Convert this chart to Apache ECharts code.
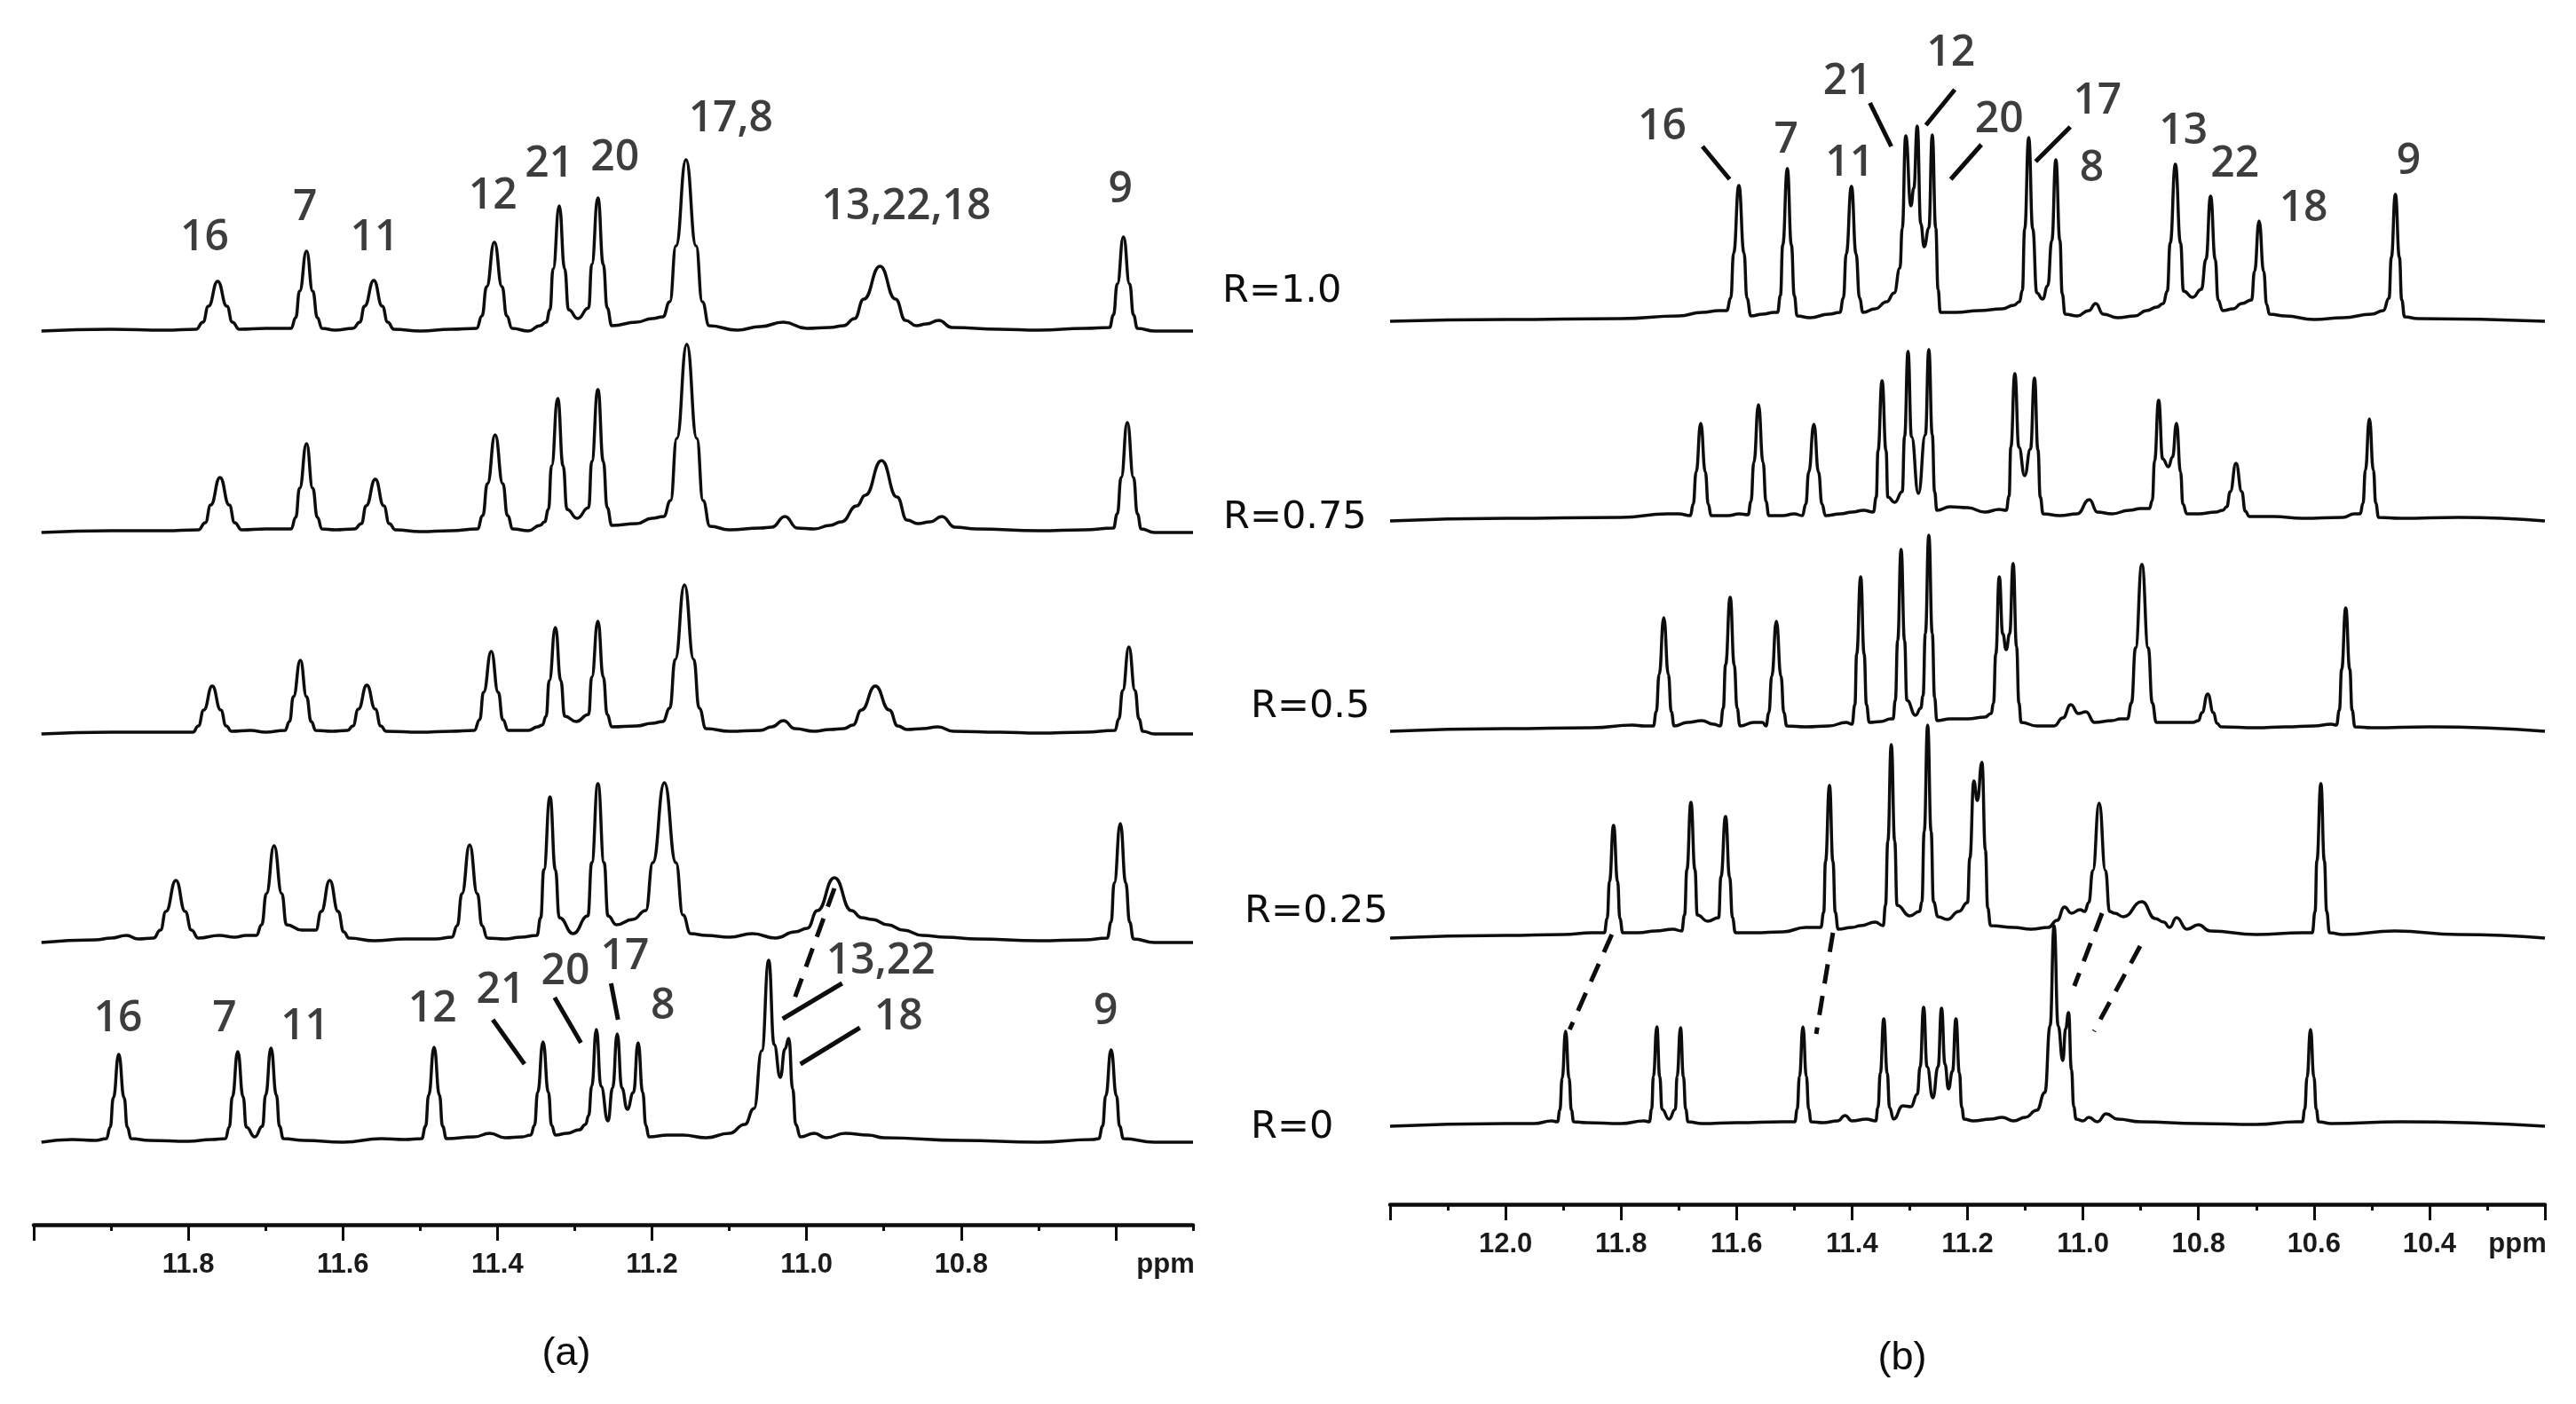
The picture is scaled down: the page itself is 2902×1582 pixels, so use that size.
<!DOCTYPE html>
<html>
<head>
<meta charset="utf-8">
<title>Imino proton spectra vs R</title>
<script src="https://cdn.jsdelivr.net/npm/echarts@6.0.0/dist/echarts.min.js"></script>
<style>
  html, body { margin: 0; padding: 0; background: #fff; }
  #chart { width: 2902px; height: 1582px; }
</style>
</head>
<body>
<div id="chart"></div>
<script>
// ---- spectra, [ppm, intensity] ----
// panel (a)
const a_R100 = [[11.99,0],[11.90,2],[11.83,1],[11.790,2],[11.781,10],[11.774,28],[11.762,56],[11.750,28],[11.743,10],[11.734,2],[11.70,3],[11.667,3],[11.661,15],[11.656,45],[11.647,90],[11.639,45],[11.633,15],[11.627,3],[11.61,1],[11.587,3],[11.578,10],[11.572,28],[11.560,57],[11.549,28],[11.542,10],[11.534,2],[11.50,0],[11.46,2],[11.427,3],[11.420,17],[11.414,50],[11.404,100],[11.394,50],[11.388,17],[11.381,3],[11.36,0],[11.345,6],[11.337,10],[11.332,24],[11.328,70],[11.320,141],[11.313,70],[11.308,24],[11.296,14],[11.282,26],[11.278,75],[11.270,150],[11.263,75],[11.258,26],[11.252,6],[11.22,10],[11.20,14],[11.186,16],[11.177,33],[11.169,96],[11.156,193],[11.143,96],[11.135,33],[11.126,6],[11.09,1],[11.06,5],[11.03,10],[11.00,3],[10.97,4],[10.952,6],[10.938,14],[10.926,36],[10.905,73],[10.885,36],[10.872,12],[10.858,6],[10.845,8],[10.829,12],[10.812,4],[10.75,2],[10.70,1],[10.64,3],[10.608,4],[10.603,18],[10.598,53],[10.590,106],[10.582,53],[10.577,18],[10.572,3],[10.55,0],[10.50,0]];
const a_R075 = [[11.99,0],[11.90,2],[11.83,2],[11.787,3],[11.778,11],[11.771,31],[11.759,62],[11.747,31],[11.740,11],[11.731,3],[11.70,4],[11.667,4],[11.661,17],[11.656,50],[11.647,100],[11.639,50],[11.633,17],[11.627,4],[11.61,3],[11.585,4],[11.576,10],[11.570,30],[11.558,60],[11.547,30],[11.540,10],[11.532,3],[11.50,1],[11.46,2],[11.426,4],[11.419,19],[11.413,55],[11.403,110],[11.393,55],[11.387,19],[11.380,4],[11.36,2],[11.345,8],[11.339,12],[11.334,26],[11.330,75],[11.322,151],[11.315,75],[11.310,26],[11.297,16],[11.282,28],[11.278,80],[11.270,161],[11.263,80],[11.258,28],[11.252,8],[11.22,10],[11.20,16],[11.185,18],[11.176,36],[11.168,106],[11.155,212],[11.142,106],[11.134,36],[11.125,7],[11.10,3],[11.06,5],[11.045,6],[11.028,18],[11.012,5],[10.99,4],[10.97,8],[10.955,12],[10.935,30],[10.924,42],[10.903,81],[10.883,40],[10.870,14],[10.856,10],[10.840,12],[10.825,18],[10.808,6],[10.78,4],[10.70,2],[10.64,3],[10.603,5],[10.598,21],[10.593,62],[10.585,124],[10.577,62],[10.572,21],[10.567,4],[10.55,0],[10.50,0]];
const a_R050 = [[11.99,0],[11.90,2],[11.83,2],[11.794,2],[11.787,9],[11.780,27],[11.769,54],[11.758,27],[11.751,9],[11.744,3],[11.72,4],[11.70,2],[11.675,4],[11.669,14],[11.664,42],[11.655,83],[11.647,42],[11.641,14],[11.635,4],[11.614,3],[11.594,4],[11.587,9],[11.580,28],[11.569,55],[11.558,28],[11.551,9],[11.544,3],[11.50,2],[11.46,3],[11.430,4],[11.423,16],[11.418,47],[11.408,93],[11.399,47],[11.393,16],[11.386,4],[11.36,4],[11.348,8],[11.342,10],[11.337,20],[11.333,60],[11.325,120],[11.318,60],[11.313,20],[11.298,14],[11.282,22],[11.278,64],[11.270,127],[11.263,64],[11.258,22],[11.252,8],[11.22,9],[11.20,12],[11.186,14],[11.177,29],[11.170,84],[11.158,168],[11.146,84],[11.139,29],[11.130,6],[11.10,3],[11.06,4],[11.045,8],[11.030,15],[11.015,6],[10.99,3],[10.97,5],[10.952,6],[10.940,10],[10.929,27],[10.911,54],[10.893,27],[10.882,9],[10.870,5],[10.850,6],[10.830,8],[10.810,3],[10.75,2],[10.70,1],[10.64,2],[10.601,4],[10.596,17],[10.591,49],[10.583,98],[10.575,49],[10.570,17],[10.565,3],[10.55,0],[10.50,0]];
const a_R025 = [[11.99,0],[11.92,3],[11.90,5],[11.880,8],[11.865,4],[11.845,5],[11.836,14],[11.829,35],[11.816,70],[11.804,35],[11.796,14],[11.787,5],[11.76,8],[11.74,6],[11.725,8],[11.712,8],[11.705,20],[11.699,55],[11.689,109],[11.679,55],[11.673,20],[11.653,14],[11.635,14],[11.628,35],[11.617,70],[11.606,35],[11.599,12],[11.592,5],[11.56,2],[11.52,4],[11.48,4],[11.459,6],[11.452,19],[11.446,55],[11.436,110],[11.426,55],[11.420,19],[11.413,5],[11.39,4],[11.37,6],[11.349,8],[11.344,28],[11.340,82],[11.332,164],[11.325,82],[11.320,28],[11.302,10],[11.283,30],[11.278,90],[11.270,179],[11.262,90],[11.257,30],[11.246,20],[11.225,26],[11.208,36],[11.199,90],[11.184,180],[11.169,90],[11.160,31],[11.150,10],[11.13,8],[11.10,6],[11.07,10],[11.04,5],[11.015,12],[10.999,16],[10.986,36],[10.964,73],[10.942,36],[10.929,28],[10.915,26],[10.895,20],[10.875,14],[10.85,8],[10.82,6],[10.78,4],[10.70,2],[10.64,3],[10.611,5],[10.606,23],[10.602,67],[10.594,134],[10.587,67],[10.582,23],[10.577,4],[10.55,0],[10.50,0]];
const a_R000 = [[11.99,0],[11.95,3],[11.92,2],[11.906,4],[11.901,17],[11.897,50],[11.890,99],[11.883,50],[11.879,17],[11.874,4],[11.85,2],[11.80,1],[11.77,3],[11.752,4],[11.747,17],[11.743,51],[11.736,102],[11.729,51],[11.725,17],[11.714,6],[11.704,18],[11.700,53],[11.693,106],[11.686,53],[11.682,18],[11.677,4],[11.65,2],[11.60,0],[11.55,4],[11.52,3],[11.498,4],[11.493,18],[11.489,53],[11.482,107],[11.475,53],[11.471,18],[11.466,4],[11.43,6],[11.41,10],[11.39,5],[11.368,6],[11.357,8],[11.352,19],[11.348,56],[11.341,113],[11.334,56],[11.330,19],[11.325,8],[11.31,10],[11.294,14],[11.286,20],[11.282,30],[11.278,63],[11.272,127],[11.266,63],[11.257,24],[11.251,61],[11.245,122],[11.239,61],[11.232,37],[11.224,56],[11.218,112],[11.212,56],[11.208,19],[11.204,6],[11.18,8],[11.16,8],[11.13,5],[11.10,10],[11.08,20],[11.068,38],[11.058,103],[11.049,205],[11.042,110],[11.034,73],[11.028,105],[11.023,117],[11.018,60],[11.014,20],[11.008,6],[10.99,10],[10.975,5],[10.95,10],[10.92,8],[10.90,5],[10.80,2],[10.70,0],[10.63,3],[10.622,4],[10.617,18],[10.613,52],[10.606,104],[10.599,52],[10.595,18],[10.590,4],[10.55,0],[10.50,0]];

// panel (b)
const b_R100 = [[12.2,0],[12.0,2],[11.80,3],[11.70,6],[11.66,10],[11.63,12],[11.617,12],[11.610,26],[11.605,77],[11.596,153],[11.587,77],[11.582,26],[11.575,6],[11.555,8],[11.535,10],[11.529,10],[11.524,29],[11.520,86],[11.512,172],[11.505,86],[11.500,29],[11.495,6],[11.473,4],[11.44,8],[11.421,10],[11.415,26],[11.410,76],[11.401,152],[11.393,76],[11.387,26],[11.381,10],[11.36,14],[11.34,22],[11.327,32],[11.317,60],[11.313,105],[11.307,209],[11.298,130],[11.293,150],[11.287,220],[11.281,110],[11.275,84],[11.267,105],[11.261,210],[11.255,105],[11.251,36],[11.247,10],[11.22,10],[11.18,12],[11.14,14],[11.12,18],[11.110,22],[11.105,35],[11.101,104],[11.094,207],[11.087,104],[11.080,32],[11.070,25],[11.061,40],[11.054,91],[11.047,182],[11.040,91],[11.036,31],[11.031,8],[11.01,6],[10.99,12],[10.978,20],[10.965,8],[10.94,4],[10.91,6],[10.89,12],[10.872,16],[10.861,20],[10.854,34],[10.849,88],[10.840,177],[10.831,88],[10.826,34],[10.810,27],[10.795,36],[10.787,70],[10.779,141],[10.771,70],[10.766,24],[10.758,12],[10.74,14],[10.725,20],[10.708,24],[10.703,56],[10.695,113],[10.687,56],[10.682,19],[10.677,8],[10.65,6],[10.60,2],[10.55,4],[10.50,8],[10.48,12],[10.470,26],[10.466,72],[10.459,143],[10.452,72],[10.448,24],[10.443,5],[10.42,3],[10.2,0]];
const b_R075 = [[12.2,0],[12.0,3],[11.80,4],[11.72,8],[11.70,8],[11.680,6],[11.675,19],[11.670,55],[11.662,110],[11.654,55],[11.649,19],[11.644,6],[11.615,6],[11.595,8],[11.580,7],[11.575,22],[11.570,66],[11.562,131],[11.554,66],[11.549,22],[11.544,6],[11.52,6],[11.50,8],[11.486,6],[11.480,19],[11.475,55],[11.466,109],[11.458,55],[11.452,19],[11.446,6],[11.42,8],[11.40,10],[11.38,12],[11.363,10],[11.358,27],[11.355,79],[11.348,158],[11.341,79],[11.338,27],[11.326,21],[11.313,33],[11.309,95],[11.303,191],[11.297,95],[11.285,31],[11.273,97],[11.267,193],[11.261,97],[11.257,33],[11.253,12],[11.23,16],[11.20,15],[11.17,10],[11.145,13],[11.133,12],[11.128,28],[11.125,83],[11.118,166],[11.111,83],[11.101,51],[11.091,81],[11.084,161],[11.078,80],[11.074,27],[11.069,8],[11.04,6],[11.01,8],[10.989,24],[10.975,10],[10.95,8],[10.92,12],[10.90,14],[10.885,14],[10.880,23],[10.876,68],[10.869,136],[10.862,70],[10.852,61],[10.845,72],[10.838,110],[10.831,55],[10.827,19],[10.820,8],[10.80,8],[10.77,10],[10.758,12],[10.751,16],[10.745,33],[10.735,65],[10.725,33],[10.719,11],[10.712,5],[10.67,5],[10.62,3],[10.55,4],[10.530,8],[10.520,8],[10.515,20],[10.511,57],[10.504,115],[10.497,57],[10.493,20],[10.488,4],[10.45,3],[10.35,4],[10.2,0]];
const b_R050 = [[12.2,0],[12.0,3],[11.85,4],[11.78,7],[11.76,6],[11.744,6],[11.739,22],[11.734,64],[11.726,128],[11.718,64],[11.713,22],[11.708,6],[11.685,10],[11.660,12],[11.640,8],[11.628,6],[11.623,26],[11.619,75],[11.611,151],[11.604,75],[11.599,26],[11.594,6],[11.570,10],[11.555,10],[11.549,6],[11.544,21],[11.539,62],[11.531,124],[11.523,62],[11.518,21],[11.513,6],[11.48,5],[11.44,6],[11.41,10],[11.400,8],[11.395,30],[11.392,87],[11.385,174],[11.379,87],[11.375,30],[11.370,10],[11.350,11],[11.333,14],[11.329,14],[11.325,35],[11.321,102],[11.315,205],[11.309,102],[11.305,35],[11.290,18],[11.281,26],[11.277,40],[11.273,110],[11.267,221],[11.261,110],[11.257,38],[11.253,12],[11.23,14],[11.20,14],[11.17,16],[11.159,20],[11.155,32],[11.151,87],[11.145,174],[11.139,110],[11.133,92],[11.127,110],[11.121,189],[11.115,95],[11.111,32],[11.107,10],[11.08,6],[11.05,6],[11.035,15],[11.021,30],[11.008,20],[10.995,22],[10.98,10],[10.95,12],[10.935,14],[10.923,14],[10.916,32],[10.909,94],[10.898,188],[10.887,94],[10.880,32],[10.873,10],[10.84,10],[10.81,10],[10.800,12],[10.794,21],[10.784,42],[10.774,21],[10.768,9],[10.761,5],[10.70,4],[10.65,5],[10.60,6],[10.57,8],[10.561,7],[10.556,24],[10.552,70],[10.545,139],[10.538,70],[10.534,24],[10.529,5],[10.50,4],[10.40,5],[10.2,0]];
const b_R025 = [[12.2,0],[12.0,3],[11.90,4],[11.85,6],[11.829,6],[11.824,22],[11.820,64],[11.813,127],[11.806,64],[11.802,22],[11.797,6],[11.77,6],[11.74,8],[11.71,10],[11.695,8],[11.690,26],[11.686,77],[11.679,153],[11.672,77],[11.668,26],[11.650,19],[11.631,23],[11.627,69],[11.619,137],[11.612,69],[11.607,23],[11.602,6],[11.57,6],[11.52,7],[11.48,12],[11.46,12],[11.454,12],[11.449,29],[11.446,86],[11.439,172],[11.433,86],[11.429,29],[11.424,10],[11.40,12],[11.385,14],[11.36,18],[11.346,14],[11.342,37],[11.338,109],[11.332,218],[11.326,109],[11.322,37],[11.30,25],[11.283,30],[11.279,41],[11.275,120],[11.269,240],[11.263,120],[11.259,41],[11.251,24],[11.235,21],[11.215,30],[11.200,40],[11.196,90],[11.189,177],[11.183,155],[11.175,198],[11.169,99],[11.165,34],[11.160,14],[11.12,12],[11.09,10],[11.06,12],[11.045,20],[11.032,35],[11.02,28],[11.005,32],[10.997,30],[10.990,40],[10.983,76],[10.972,152],[10.961,76],[10.954,30],[10.945,28],[10.93,24],[10.898,41],[10.875,22],[10.86,18],[10.85,12],[10.838,23],[10.82,10],[10.80,15],[10.78,8],[10.70,4],[10.62,6],[10.603,6],[10.598,30],[10.595,87],[10.588,174],[10.582,87],[10.578,30],[10.573,6],[10.55,4],[10.46,8],[10.35,4],[10.2,0]];
const b_R000 = [[12.2,0],[12.0,3],[11.95,3],[11.92,6],[11.910,5],[11.906,18],[11.902,54],[11.896,107],[11.890,54],[11.886,18],[11.882,5],[11.86,4],[11.80,3],[11.76,6],[11.751,5],[11.747,19],[11.744,56],[11.738,112],[11.733,56],[11.729,19],[11.717,8],[11.706,19],[11.703,56],[11.697,111],[11.692,56],[11.688,19],[11.684,5],[11.66,3],[11.60,4],[11.52,5],[11.499,5],[11.495,19],[11.491,56],[11.485,112],[11.479,56],[11.475,19],[11.471,5],[11.45,4],[11.425,6],[11.412,12],[11.40,6],[11.375,8],[11.359,6],[11.355,21],[11.351,60],[11.345,121],[11.339,60],[11.335,21],[11.328,8],[11.312,23],[11.298,22],[11.287,36],[11.282,67],[11.276,134],[11.270,67],[11.260,32],[11.251,67],[11.245,133],[11.239,70],[11.233,42],[11.226,62],[11.220,121],[11.214,60],[11.210,21],[11.206,8],[11.19,6],[11.16,8],[11.14,10],[11.12,6],[11.10,10],[11.08,18],[11.066,38],[11.057,113],[11.050,226],[11.043,113],[11.035,74],[11.030,110],[11.025,128],[11.020,64],[11.016,22],[11.012,8],[11.00,6],[10.99,10],[10.975,5],[10.96,14],[10.94,8],[10.90,5],[10.80,3],[10.70,2],[10.63,5],[10.620,5],[10.616,19],[10.612,55],[10.606,109],[10.600,55],[10.596,19],[10.592,5],[10.57,3],[10.45,5],[10.2,0]];

const ratios = ['R=1.0', 'R=0.75', 'R=0.5', 'R=0.25', 'R=0'];

// axis ticks
const ticksA = [11.8, 11.6, 11.4, 11.2, 11.0, 10.8];
const majorA = [12.0, 11.8, 11.6, 11.4, 11.2, 11.0, 10.8, 10.6];
const minorA = [11.9, 11.7, 11.5, 11.3, 11.1, 10.9, 10.7, 10.5];
const ticksB = [12.0, 11.8, 11.6, 11.4, 11.2, 11.0, 10.8, 10.6, 10.4];
const majorB = [12.2, 12.0, 11.8, 11.6, 11.4, 11.2, 11.0, 10.8, 10.6, 10.4, 10.2];
const minorB = [12.1, 11.9, 11.7, 11.5, 11.3, 11.1, 10.9, 10.7, 10.5, 10.3];

// peak assignments: [text, ppm, height]
const peakLabelsA = [
  ['16', 11.779, 1112], ['7', 11.649, 1146], ['11', 11.559, 1112], ['12', 11.406, 1159],
  ['21', 11.333, 1195], ['20', 11.248, 1202], ['17,8', 11.098, 1246], ['13,22,18', 10.871, 1147],
  ['9', 10.594, 1166],
  ['16', 11.891, 232], ['7', 11.753, 232], ['11', 11.649, 223], ['12', 11.484, 243],
  ['21', 11.396, 264], ['20', 11.312, 285], ['17', 11.235, 302], ['8', 11.186, 246],
  ['13,22', 10.904, 297], ['18', 10.881, 234], ['9', 10.613, 240]
];
const peakLabelsB = [
  ['16', 11.729, 1214], ['7', 11.514, 1199], ['11', 11.404, 1173], ['21', 11.408, 1265],
  ['12', 11.229, 1297], ['20', 11.145, 1222], ['17', 10.975, 1243], ['8', 10.985, 1167],
  ['13', 10.826, 1209], ['22', 10.737, 1172], ['18', 10.618, 1122], ['9', 10.436, 1175]
];
// pointer lines from labels to peaks
const leadersA = [
  [[11.406, 231], [11.365, 181]], [[11.326, 256], [11.292, 205]], [[11.253, 272], [11.244, 231]],
  [[10.954, 272], [11.031, 232]], [[10.931, 222], [11.008, 181]]
];
const leadersB = [
  [[11.659, 1192], [11.612, 1155]], [[11.369, 1241], [11.332, 1192]], [[11.222, 1256], [11.272, 1216]],
  [[11.176, 1194], [11.229, 1155]], [[11.022, 1214], [11.082, 1175]]
];
// dashed peak-tracking lines between R=0.25 and R=0
const trackA = [[[10.964, 379], [11.016, 254]]];
const trackB = [
  [[11.816, 304], [11.889, 197]], [[11.433, 306], [11.462, 192]],
  [[10.967, 328], [11.015, 246]], [[10.901, 291], [10.981, 195]]
];

// ---- layout ----
const offsetsA = [1007, 780, 553, 318, 93];
const offsetsB = [995, 770, 533, 300, 88];
const ratioPos = [[1377, 329], [1378, 584], [1409, 797], [1402, 1028], [1409, 1271]];
const INK = '#0d0d0d';

const chart = echarts.init(document.getElementById('chart'));

function majorAxis(grid, min, max, majors, labels) {
  return {
    type: 'value', gridIndex: grid, min: min, max: max, inverse: true, position: 'bottom',
    axisLine: { lineStyle: { color: INK, width: 4.5 } },
    axisTick: { customValues: majors, length: 18, lineStyle: { color: INK, width: 3 } },
    axisLabel: {
      customValues: labels.concat([min]),
      margin: 30, fontFamily: 'Liberation Sans', fontSize: 31, fontWeight: 'bold', color: '#1a1a1a',
      formatter: function (v) {
        return Math.abs(v - min) < 1e-6 ? '{u|ppm}' : v.toFixed(1);
      },
      rich: { u: { fontFamily: 'Liberation Sans', fontSize: 31, fontWeight: 'bold', color: '#1a1a1a', padding: [0, 62, 0, 0] } }
    },
    splitLine: { show: false }
  };
}
function minorAxis(grid, min, max, minors) {
  return {
    type: 'value', gridIndex: grid, min: min, max: max, inverse: true, position: 'bottom', offset: 0,
    axisLine: { show: false },
    axisTick: { customValues: minors, length: 7, lineStyle: { color: INK, width: 3 } },
    axisLabel: { show: false },
    splitLine: { show: false }
  };
}

const series = [];
function addTraces(list, offsets, xi, yi) {
  list.forEach(function (d, i) {
    series.push({
      type: 'line', xAxisIndex: xi, yAxisIndex: yi, silent: true,
      data: d.map(function (p) { return [p[0], p[1] + offsets[i]]; }),
      showSymbol: false, smooth: 0.5, smoothMonotone: 'x',
      lineStyle: { color: INK, width: 3.5 }
    });
  });
}
function addSegments(list, xi, yi, width, dash) {
  list.forEach(function (seg) {
    series.push({
      type: 'line', xAxisIndex: xi, yAxisIndex: yi, silent: true,
      data: seg, showSymbol: false,
      lineStyle: { color: INK, width: width, type: dash, cap: 'butt' }
    });
  });
}
function addLabels(list, xi, yi) {
  series.push({
    type: 'scatter', xAxisIndex: xi, yAxisIndex: yi, silent: true, symbolSize: 0,
    data: list.map(function (l) { return { name: l[0], value: [l[1], l[2]] }; }),
    label: {
      show: true, position: 'inside', formatter: '{b}',
      fontFamily: 'Open Sans', fontSize: 48, fontWeight: 600, color: INK
    }
  });
}

addTraces([a_R100, a_R075, a_R050, a_R025, a_R000], offsetsA, 0, 0);
addTraces([b_R100, b_R075, b_R050, b_R025, b_R000], offsetsB, 2, 1);
addSegments(leadersA, 0, 0, 5, 'solid');
addSegments(leadersB, 2, 1, 5, 'solid');
addSegments(trackA, 0, 0, 5, [22, 14]);
addSegments(trackB, 2, 1, 5, [22, 14]);
addLabels(peakLabelsA, 0, 0);
addLabels(peakLabelsB, 2, 1);

const graphic = ratios.map(function (t, i) {
  return {
    type: 'text', x: ratioPos[i][0], y: ratioPos[i][1],
    style: { text: t, fontFamily: 'DejaVu Sans', fontSize: 43, fill: INK, align: 'left', verticalAlign: 'middle' }
  };
});
graphic.push(
  { type: 'text', x: 638, y: 1526, style: { text: '(a)', fontFamily: 'Liberation Sans', fontSize: 45, fill: INK, align: 'center', verticalAlign: 'middle' } },
  { type: 'text', x: 2143, y: 1531, style: { text: '(b)', fontFamily: 'Liberation Sans', fontSize: 45, fill: INK, align: 'center', verticalAlign: 'middle' } }
);

chart.setOption({
  animation: false,
  backgroundColor: '#fff',
  grid: [
    { left: 38, right: 1558, top: 80, height: 1300 },
    { left: 1566, right: 35, top: 57, height: 1300 }
  ],
  xAxis: [
    majorAxis(0, 10.5, 12.0, majorA, ticksA),
    minorAxis(0, 10.5, 12.0, minorA),
    majorAxis(1, 10.2, 12.2, majorB, ticksB),
    minorAxis(1, 10.2, 12.2, minorB)
  ],
  yAxis: [
    { type: 'value', gridIndex: 0, min: 0, max: 1300, show: false },
    { type: 'value', gridIndex: 1, min: 0, max: 1300, show: false }
  ],
  series: series,
  graphic: graphic
});
</script>
</body>
</html>
